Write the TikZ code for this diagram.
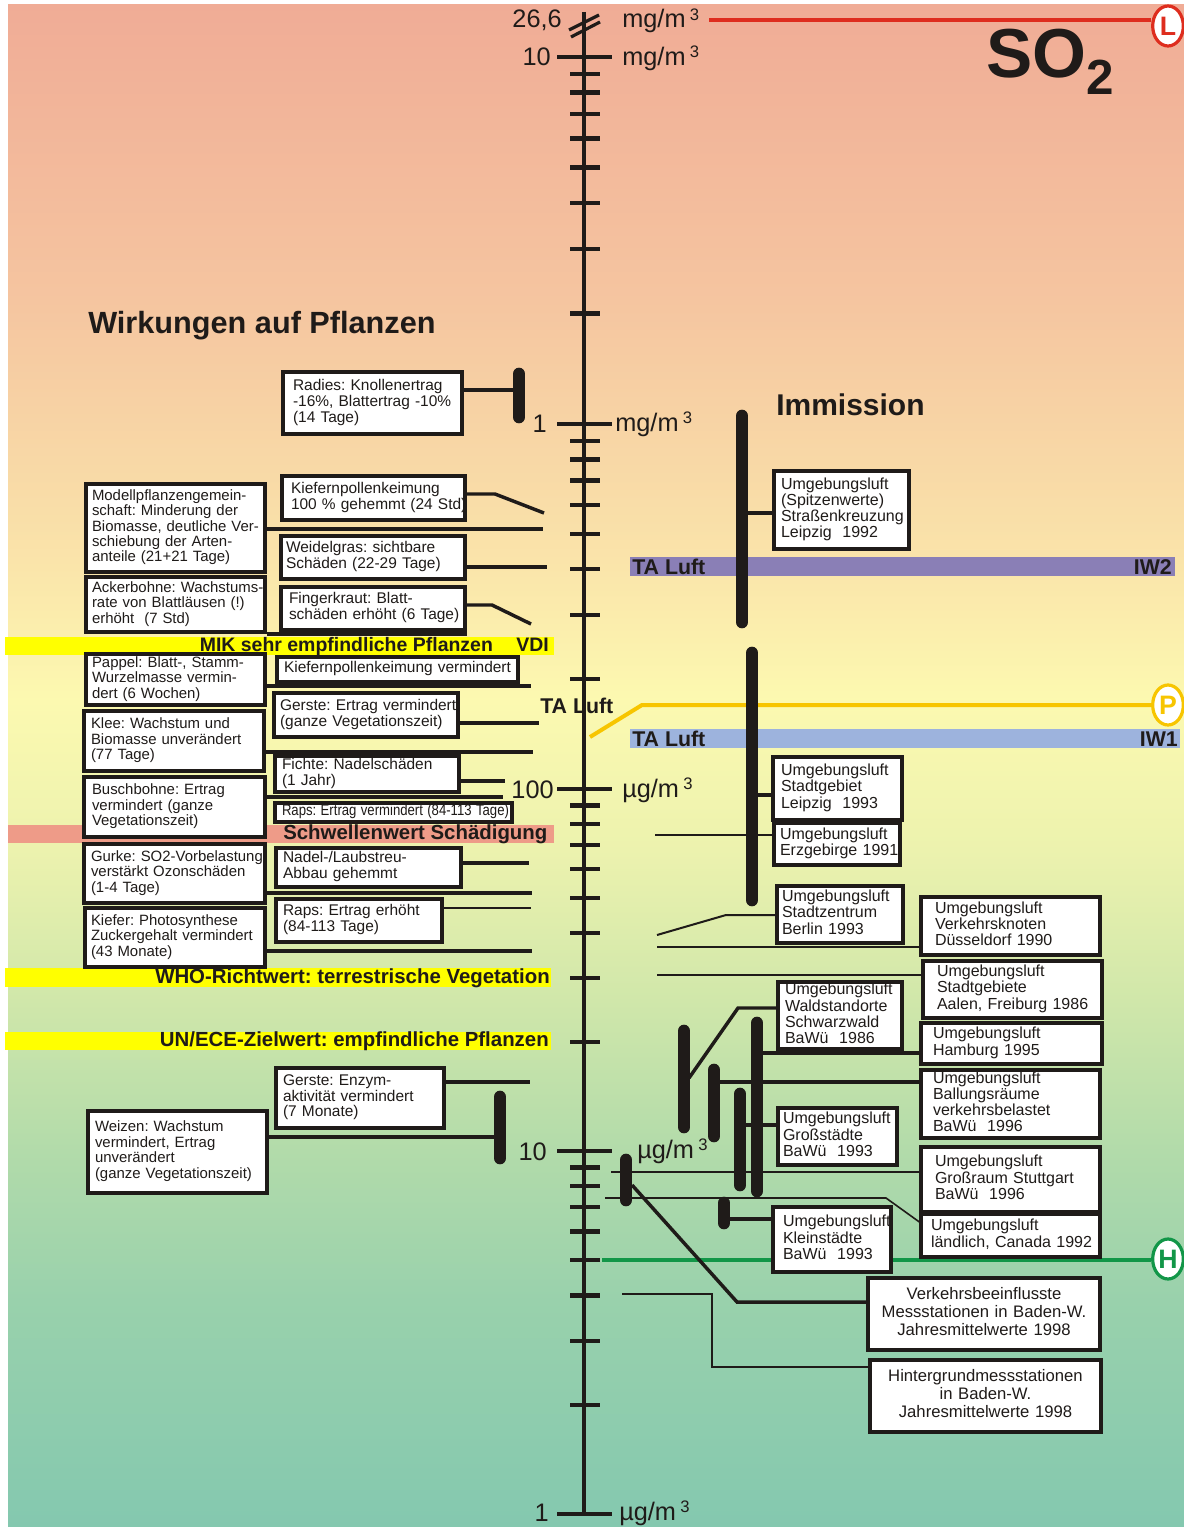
\documentclass[tikz,border=0pt]{standalone}
\usepackage{fontspec}
\setmainfont{Liberation Sans}
\usetikzlibrary{shapes.geometric}
\frenchspacing

\definecolor{ink}{RGB}{31,27,25}
\definecolor{bgA}{RGB}{240,172,150}
\definecolor{bgB}{RGB}{245,197,160}
\definecolor{bgC}{RGB}{250,228,170}
\definecolor{bgD}{RGB}{252,249,176}
\definecolor{bgE}{RGB}{236,242,174}
\definecolor{bgF}{RGB}{208,231,170}
\definecolor{bgG}{RGB}{178,219,170}
\definecolor{bgH}{RGB}{153,209,172}
\definecolor{bgI}{RGB}{132,200,175}
\definecolor{bandyellow}{RGB}{255,255,0}
\definecolor{bandsalmon}{RGB}{238,155,136}
\definecolor{bandpurple}{RGB}{138,127,182}
\definecolor{bandblue}{RGB}{157,179,221}
\definecolor{limitred}{RGB}{222,45,30}
\definecolor{limityellow}{RGB}{247,197,0}
\definecolor{limitgreen}{RGB}{18,150,72}

% lines of a box, left aligned or centred, never re-broken
\newcommand\lns[1]{\begin{tabular}{@{}l@{}}#1\end{tabular}}
\newcommand\cns[1]{\begin{tabular}{@{}c@{}}#1\end{tabular}}
\newcommand\cubic{\,\raisebox{0.3em}{\fontsize{12.5}{12.5}\selectfont 3}}

% #1 name, #2 style, #3 left padding (px), #4..#7 corners (px), #8 text
\newcommand\mkbox[8]{%
  \pgfmathsetmacro\bw{(#6-#4)*0.75}%
  \pgfmathsetmacro\bh{(#7-#5)*0.75}%
  \pgfmathsetmacro\tw{(#6-#4-2*#3)*0.75}%
  \node[#2, minimum width=\bw pt, minimum height=\bh pt, text width=\tw pt]
    (#1) at ({(#4+#6)/2},{(#5+#7)/2}) {#8};}

\begin{document}
\begin{tikzpicture}[x=0.75pt,y=-0.75pt,
  lbox/.style={draw=ink,line width=2.4pt,fill=white,inner sep=0pt,align=left,
    text=ink,font=\fontsize{11.6}{11.6}\selectfont},
  outerbox/.style={lbox,font=\fontsize{11.2}{11.5}\selectfont},
  rbox/.style={lbox,font=\fontsize{12}{11.6}\selectfont},
  cbox/.style={lbox,align=center,font=\fontsize{12.5}{13.5}\selectfont},
  conn/.style={draw=ink,line width=2.6pt},
  thinconn/.style={draw=ink,line width=1.2pt},
  vbar/.style={draw=ink,line width=9.5pt,line cap=round},
  axtick/.style={draw=ink,line width=3.2pt},
  bandtext/.style={font=\fontsize{15.3}{15.3}\selectfont\bfseries,text=ink,inner sep=0pt},
  axlabel/.style={font=\fontsize{19}{19}\selectfont,text=ink,inner sep=0pt},
  limitmark/.style={ellipse,fill=white,line width=2.4pt,inner sep=0pt,
    minimum width=23pt,minimum height=30pt,font=\fontsize{20}{20}\selectfont\bfseries},
  title/.style={font=\fontsize{23}{23}\selectfont\bfseries,text=ink,inner sep=0pt}
]
\useasboundingbox (0,0) rectangle (1184,1527);
\fill[white] (0,0) rectangle (1184,1527);

% background gradient, salmon at the top to teal green at the bottom
\shade[top color=bgA,bottom color=bgB] (8,5) rectangle (1184,301);
\shade[top color=bgB,bottom color=bgC] (8,300) rectangle (1184,561);
\shade[top color=bgC,bottom color=bgD] (8,560) rectangle (1184,701);
\shade[top color=bgD,bottom color=bgE] (8,700) rectangle (1184,851);
\shade[top color=bgE,bottom color=bgF] (8,850) rectangle (1184,1001);
\shade[top color=bgF,bottom color=bgG] (8,1000) rectangle (1184,1151);
\shade[top color=bgG,bottom color=bgH] (8,1150) rectangle (1184,1301);
\shade[top color=bgH,bottom color=bgI] (8,1300) rectangle (1184,1527);

% reference bands on the plant side
\fill[bandyellow] (5,637) rectangle (554,655);
\node[bandtext,font=\fontsize{14.6}{14.6}\selectfont\bfseries,anchor=base east] (mik) at (549,651) {MIK sehr empfindliche Pflanzen\hspace{1.2em}VDI};
\fill[bandsalmon] (8,825) rectangle (554,843);
\node[bandtext,anchor=base west] (schwelle) at (283,839) {Schwellenwert Schädigung};
\fill[bandyellow] (5,968) rectangle (551,987);
\node[bandtext,anchor=base east] (who) at (550,983) {WHO-Richtwert: terrestrische Vegetation};
\fill[bandyellow] (5,1032) rectangle (551,1050);
\node[bandtext,anchor=base east] (unece) at (549,1046) {UN/ECE-Zielwert: empfindliche Pflanzen};

% TA Luft bands on the immission side
\fill[bandpurple] (630,557) rectangle (1175,576);
\node[bandtext,font=\fontsize{16}{16}\selectfont\bfseries,anchor=base west] (taiw2) at (632,574) {TA Luft};
\node[bandtext,font=\fontsize{16}{16}\selectfont\bfseries,anchor=base east] (iw2) at (1172,574) {IW2};
\fill[bandblue] (630,729) rectangle (1180,748);
\node[bandtext,font=\fontsize{16}{16}\selectfont\bfseries,anchor=base west] (taiw1) at (632,746) {TA Luft};
\node[bandtext,font=\fontsize{16}{16}\selectfont\bfseries,anchor=base east] (iw1) at (1178,746) {IW1};
\node[bandtext,font=\fontsize{16}{16}\selectfont\bfseries,anchor=base west] (taluft) at (540,713) {TA Luft};

% limit lines with their markers
\node[limitmark,draw=limitred,text=limitred] (Lmark) at (1168,26) {L};
\node[limitmark,draw=limityellow,text=limityellow] (Pmark) at (1168,705) {P};
\node[limitmark,draw=limitgreen,text=limitgreen] (Hmark) at (1168,1259) {H};
\coordinate (redStart) at (709,20.5);
\draw[limitred,line width=3pt] (redStart) -- (Lmark.west |- redStart);
\coordinate (yelStart) at (590,737);
\coordinate (yelKnee) at (642,705);
\draw[limityellow,line width=3pt] (yelStart) -- (yelKnee) -- (Pmark.west |- yelKnee);
\coordinate (grnStart) at (602,1260);
\draw[limitgreen,line width=2.8pt] (grnStart) -- (Hmark.west |- grnStart);

% logarithmic concentration axis
\draw[ink,line width=3.4pt] (584,12) -- (584,1514);
\draw[ink,line width=2.4pt] (569,30) -- (599,15);
\draw[ink,line width=2.4pt] (571,37) -- (600,22);
\foreach \y in {57,424,789,1151,1514} \draw[axtick] (557,\y) -- (612,\y);
\foreach \ya/\yb in {57/424,424/789,789/1151,1151/1514}{
  \foreach \m in {2,...,9}{
    \pgfmathsetmacro\yy{\yb-(\yb-\ya)*ln(\m)/ln(10)}
    \draw[axtick] (570,\yy) -- (600,\yy);
  }
}
\node[axlabel,anchor=base east] (l266) at (562,28) {26,6};
\node[axlabel,anchor=base west] (u266) at (622,28) {mg/m\cubic};
\node[axlabel,anchor=base east] (l10m) at (551,65) {10};
\node[axlabel,anchor=base west] (u10m) at (622,65) {mg/m\cubic};
\node[axlabel,anchor=base east] (l1m) at (547,432) {1};
\node[axlabel,anchor=base west] (u1m) at (615,431) {mg/m\cubic};
\node[axlabel,anchor=base east] (l100u) at (554,798) {100};
\node[axlabel,anchor=base west] (u100u) at (622,797) {µg/m\cubic};
\node[axlabel,anchor=base east] (l10u) at (547,1160) {10};
\node[axlabel,anchor=base west] (u10u) at (637,1158) {µg/m\cubic};
\node[axlabel,anchor=base east] (l1u) at (549,1521) {1};
\node[axlabel,anchor=base west] (u1u) at (619,1520) {µg/m\cubic};

% headings
\node[title,anchor=base west] (wirk) at (88,333) {Wirkungen auf Pflanzen};
\node[title,font=\fontsize{22.5}{22.5}\selectfont\bfseries,anchor=base west] (immi) at (776,415) {Immission};
\node[text=ink,inner sep=0pt,anchor=base west,font=\fontsize{52}{52}\selectfont\bfseries] (so2) at (986,78)
  {SO\raisebox{-12.5pt}{\fontsize{37}{37}\selectfont 2}};

% effects on plants
\mkbox{radies}{lbox}{10}{283}{372}{462}{434}{\lns{Radies: Knollenertrag\\-16\%, Blattertrag -10\%\\(14 Tage)}}
\mkbox{kp100}{lbox}{9}{282}{476}{465}{520}{\lns{Kiefernpollenkeimung\\100 \% gehemmt (24 Std)}}
\mkbox{modell}{outerbox}{6}{86}{484}{265}{572}{\lns{Modellpflanzengemein-\\schaft: Minderung der\\Biomasse, deutliche Ver-\\schiebung der Arten-\\anteile (21+21 Tage)}}
\mkbox{weidel}{lbox}{5}{281}{536}{465}{579}{\lns{Weidelgras: sichtbare\\Schäden (22-29 Tage)}}
\mkbox{acker}{outerbox}{6}{86}{577}{265}{632}{\lns{Ackerbohne: Wachstums-\\rate von Blattläusen (!)\\erhöht~~(7 Std)}}
\mkbox{finger}{lbox}{8}{281}{587}{465}{630}{\lns{Fingerkraut: Blatt-\\schäden erhöht (6 Tage)}}
\mkbox{kpverm}{lbox}{7}{277}{657}{518}{682}{\lns{Kiefernpollenkeimung vermindert}}
\mkbox{pappel}{outerbox}{6}{86}{654}{265}{705}{\lns{Pappel: Blatt-, Stamm-\\Wurzelmasse vermin-\\dert (6 Wochen)}}
\mkbox{gersteA}{lbox}{6}{274}{693}{458}{737}{\lns{Gerste: Ertrag vermindert\\(ganze Vegetationszeit)}}
\mkbox{klee}{outerbox}{7}{84}{711}{264}{771}{\lns{Klee: Wachstum und\\Biomasse unverändert\\(77 Tage)}}
\mkbox{fichte}{lbox}{7}{275}{756}{459}{792}{\lns{Fichte: Nadelschäden\\(1 Jahr)}}
\mkbox{busch}{outerbox}{8}{84}{777}{265}{837}{\lns{Buschbohne: Ertrag\\vermindert (ganze\\Vegetationszeit)}}
\mkbox{rapsv}{lbox}{7}{275}{803}{512}{822}{\lns{\scalebox{0.85}[1]{Raps: Ertrag vermindert (84-113 Tage)}}}
\mkbox{nadel}{lbox}{7}{276}{848}{461}{887}{\lns{Nadel-/Laubstreu-\\Abbau gehemmt}}
\mkbox{gurke}{outerbox}{7}{84}{844}{265}{903}{\lns{Gurke: SO2-Vorbelastung\\verstärkt Ozonschäden\\(1-4 Tage)}}
\mkbox{rapse}{lbox}{7}{276}{899}{442}{942}{\lns{Raps: Ertrag erhöht\\(84-113 Tage)}}
\mkbox{kiefer}{outerbox}{6}{85}{908}{265}{967}{\lns{Kiefer: Photosynthese\\Zuckergehalt vermindert\\(43 Monate)}}
\mkbox{gersteB}{lbox}{7}{276}{1068}{444}{1128}{\lns{Gerste: Enzym-\\aktivität vermindert\\(7 Monate)}}
\mkbox{weizen}{outerbox}{7}{88}{1111}{267}{1193}{\lns{Weizen: Wachstum\\vermindert, Ertrag\\unverändert\\(ganze Vegetationszeit)}}

% their connectors to the axis
\coordinate (cRadies) at (519,390);
\draw[conn] (radies.east |- cRadies) -- (cRadies);
\coordinate (cKpA) at (495,494); \coordinate (cKpB) at (544,513);
\draw[conn] (kp100.east |- cKpA) -- (cKpA) -- (cKpB);
\coordinate (cModell) at (543,529);
\draw[conn] (modell.east |- cModell) -- (cModell);
\coordinate (cWeidel) at (547,567);
\draw[conn] (weidel.east |- cWeidel) -- (cWeidel);
\coordinate (cFingA) at (492,605); \coordinate (cFingB) at (531,624);
\draw[conn] (finger.east |- cFingA) -- (cFingA) -- (cFingB);
\coordinate (cAcker) at (467,634);
\draw[conn] (acker.east |- cAcker) -- (cAcker);
\coordinate (cPappel) at (531,686);
\draw[conn] (pappel.east |- cPappel) -- (cPappel);
\coordinate (cGersteA) at (539,723);
\draw[conn] (gersteA.east |- cGersteA) -- (cGersteA);
\coordinate (cKlee) at (533,752);
\draw[conn] (klee.east |- cKlee) -- (cKlee);
\coordinate (cFichte) at (505,781);
\draw[conn] (fichte.east |- cFichte) -- (cFichte);
\coordinate (cBusch) at (503,797);
\draw[conn] (busch.east |- cBusch) -- (cBusch);
\coordinate (cNadel) at (529,863);
\draw[conn] (nadel.east |- cNadel) -- (cNadel);
\coordinate (cGurke) at (532,893);
\draw[conn] (gurke.east |- cGurke) -- (cGurke);
\coordinate (cRapse) at (531,908);
\draw[thinconn] (rapse.east |- cRapse) -- (cRapse);
\coordinate (cKiefer) at (532,951);
\draw[conn] (kiefer.east |- cKiefer) -- (cKiefer);
\coordinate (cGersteB) at (530,1082);
\draw[conn] (gersteB.east |- cGersteB) -- (cGersteB);
\coordinate (cWeizen) at (500,1137);
\draw[conn] (weizen.east |- cWeizen) -- (cWeizen);

% range bars on the plant side
\coordinate (rbTop) at (519,374); \coordinate (rbBot) at (519,417);
\draw[vbar] (rbTop) -- (rbBot);
\coordinate (wbTop) at (500,1097); \coordinate (wbBot) at (500,1158);
\draw[vbar] (wbTop) -- (wbBot);

% measured immission
\mkbox{spitzen}{rbox}{7}{774}{471}{909}{549}{\lns{Umgebungsluft\\(Spitzenwerte)\\Straßenkreuzung\\Leipzig~~1992}}
\mkbox{leipzig}{rbox}{8}{773}{757}{902}{820}{\lns{Umgebungsluft\\Stadtgebiet\\Leipzig~~1993}}
\mkbox{erzg}{rbox}{6}{774}{823}{900}{865}{\lns{Umgebungsluft\\Erzgebirge 1991}}
\mkbox{berlin}{rbox}{5}{777}{886}{903}{943}{\lns{Umgebungsluft\\Stadtzentrum\\Berlin 1993}}
\mkbox{duess}{rbox}{14}{921}{897}{1100}{955}{\lns{Umgebungsluft\\Verkehrsknoten\\Düsseldorf 1990}}
\mkbox{aalen}{rbox}{14}{923}{961}{1102}{1018}{\lns{Umgebungsluft\\Stadtgebiete\\Aalen, Freiburg 1986}}
\mkbox{wald}{rbox}{7}{778}{982}{902}{1049}{\lns{Umgebungsluft\\Waldstandorte\\Schwarzwald\\BaWü~~1986}}
\mkbox{hamburg}{rbox}{12}{921}{1023}{1102}{1064}{\lns{Umgebungsluft\\Hamburg 1995}}
\mkbox{ballung}{rbox}{12}{921}{1070}{1100}{1138}{\lns{Umgebungsluft\\Ballungsräume\\verkehrsbelastet\\BaWü~~1996}}
\mkbox{gross}{rbox}{5}{778}{1108}{897}{1165}{\lns{Umgebungsluft\\Großstädte\\BaWü~~1993}}
\mkbox{stutt}{rbox}{14}{921}{1147}{1100}{1212}{\lns{Umgebungsluft\\Großraum Stuttgart\\BaWü~~1996}}
\mkbox{canada}{rbox}{10}{921}{1214}{1100}{1257}{\lns{Umgebungsluft\\ländlich, Canada 1992}}
\mkbox{klein}{rbox}{10}{773}{1207}{891}{1272}{\lns{Umgebungsluft\\Kleinstädte\\BaWü~~1993}}
\mkbox{verkehr}{cbox}{8}{868}{1278}{1100}{1350}{\cns{Verkehrsbeeinflusste\\Messstationen in Baden-W.\\Jahresmittelwerte 1998}}
\mkbox{hinter}{cbox}{8}{870}{1360}{1101}{1432}{\cns{Hintergrundmessstationen\\in Baden-W.\\Jahresmittelwerte 1998}}

% immission connectors
\coordinate (cSpitzen) at (742,513);
\draw[conn] (cSpitzen) -- (spitzen.west |- cSpitzen);
\coordinate (cLeipzig) at (752,795);
\draw[conn] (cLeipzig) -- (leipzig.west |- cLeipzig);
\coordinate (cErzg) at (655,835);
\draw[thinconn,line width=1.5pt] (cErzg) -- (erzg.west |- cErzg);
\coordinate (cBerlinA) at (726,915); \coordinate (cBerlinB) at (657,935);
\draw[thinconn,line width=1.5pt] (berlin.west |- cBerlinA) -- (cBerlinA) -- (cBerlinB);
\coordinate (cDuess) at (657,947);
\draw[thinconn] (cDuess) -- (duess.west |- cDuess);
\coordinate (cAalen) at (657,975);
\draw[thinconn] (cAalen) -- (aalen.west |- cAalen);
\coordinate (cWaldA) at (738,1008); \coordinate (cWaldB) at (689,1078);
\draw[conn] (wald.west |- cWaldA) -- (cWaldA) -- (cWaldB);
\coordinate (cHamburg) at (757,1053);
\draw[conn] (cHamburg) -- (hamburg.west |- cHamburg);
\coordinate (cBallung) at (714,1082);
\draw[conn] (cBallung) -- (ballung.west |- cBallung);
\coordinate (cGross) at (740,1125);
\draw[conn] (cGross) -- (gross.west |- cGross);
\coordinate (cStutt) at (611,1172);
\draw[thinconn] (cStutt) -- (stutt.west |- cStutt);
\coordinate (cCanA) at (605,1198); \coordinate (cCanB) at (886,1198); \coordinate (cCanC) at (921,1222);
\draw[thinconn] (cCanA) -- (cCanB) -- (canada.west |- cCanC);
\coordinate (cKlein) at (724,1219);
\draw[conn] (cKlein) -- (klein.west |- cKlein);
\coordinate (cVerkA) at (632,1185); \coordinate (cVerkB) at (737,1302);
\draw[conn] (cVerkA) -- (cVerkB) -- (verkehr.west |- cVerkB);
\coordinate (cHintA) at (622,1294); \coordinate (cHintB) at (712,1294); \coordinate (cHintC) at (712,1367);
\draw[thinconn] (cHintA) -- (cHintB) -- (cHintC) -- (hinter.west |- cHintC);

% immission ranges
\coordinate (ib1T) at (742,416); \coordinate (ib1B) at (742,622);
\draw[vbar] (ib1T) -- (ib1B);
\coordinate (ib2T) at (752,653); \coordinate (ib2B) at (752,900);
\draw[vbar] (ib2T) -- (ib2B);
\coordinate (ib3T) at (684,1031); \coordinate (ib3B) at (684,1127);
\draw[vbar] (ib3T) -- (ib3B);
\coordinate (ib4T) at (714,1070); \coordinate (ib4B) at (714,1136);
\draw[vbar] (ib4T) -- (ib4B);
\coordinate (ib5T) at (740,1094); \coordinate (ib5B) at (740,1185);
\draw[vbar] (ib5T) -- (ib5B);
\coordinate (ib6T) at (757,1023); \coordinate (ib6B) at (757,1191);
\draw[vbar] (ib6T) -- (ib6B);
\coordinate (ib7T) at (626,1160); \coordinate (ib7B) at (626,1200);
\draw[vbar] (ib7T) -- (ib7B);
\coordinate (ib8T) at (724,1203); \coordinate (ib8B) at (724,1223);
\draw[vbar] (ib8T) -- (ib8B);
\end{tikzpicture}
\end{document}
